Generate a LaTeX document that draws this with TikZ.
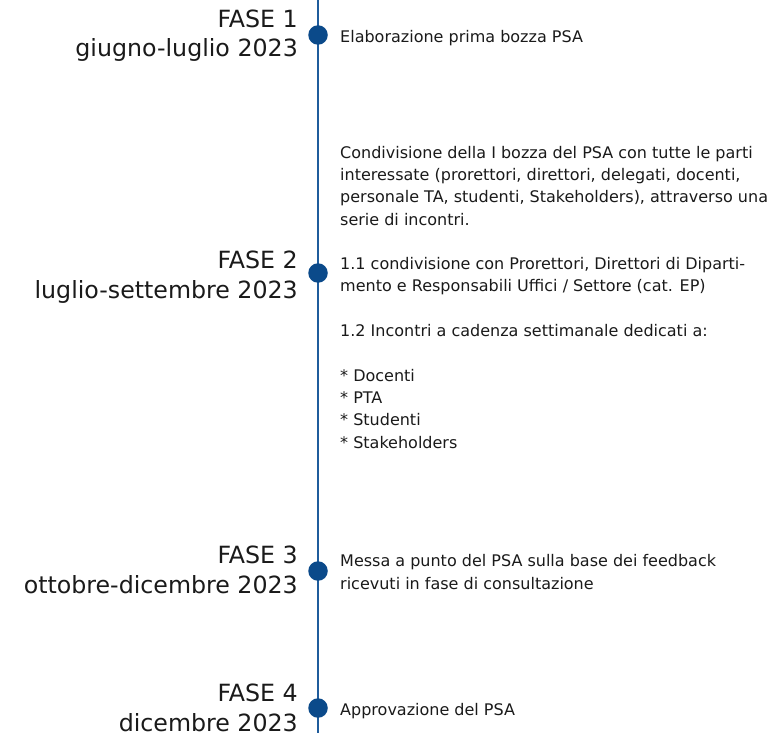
\documentclass[tikz,border=0pt]{standalone}
\usepackage{fontspec}
\setmainfont{DejaVu Sans}
\definecolor{lineblue}{HTML}{1F5C9C}
\definecolor{dotblue}{HTML}{0B4A8A}
\definecolor{txt}{HTML}{1A1A1A}
\begin{document}
\begin{tikzpicture}[x=1pt,y=-1pt,
  phase/.style={anchor=base east, align=right, font=\fontsize{23.7}{29.5}\selectfont, text=txt, inner sep=0pt},
  desc/.style={anchor=base west, align=left, font=\fontsize{16}{22.3}\selectfont, text=txt, inner sep=0pt},
  dot/.style={circle, fill=dotblue, minimum size=19.5pt, inner sep=0pt}]
\useasboundingbox (0,0) rectangle (773,733);
\coordinate (top) at (318,0);
\coordinate (bot) at (318,733);
\draw[lineblue, line width=2.7pt] (top) -- (bot);
\node[dot] (d1) at (318,35) {};
\node[dot] (d2) at (318,273) {};
\node[dot] (d3) at (318,571) {};
\node[dot] (d4) at (318,708) {};
\node[phase] (p1) at (298,57) {FASE 1\\giugno-luglio 2023};
\node[phase] (p2) at (298,298) {FASE 2\\luglio-settembre 2023};
\node[phase] (p3) at (298,593) {FASE 3\\ottobre-dicembre 2023};
\node[phase] (p4) at (298,731) {FASE 4\\dicembre 2023};
\node[desc] (t1) at (340,43) {Elaborazione prima bozza PSA};
\node[desc] (t2) at (340,448) {Condivisione della I bozza del PSA con tutte le parti\\interessate (prorettori, direttori, delegati, docenti,\\personale TA, studenti, Stakeholders), attraverso una\\serie di incontri.\\[22.3pt]1.1 condivisione con Prorettori, Direttori di Diparti-\\mento e Responsabili Uffici / Settore (cat. EP)\\[22.3pt]1.2 Incontri a cadenza settimanale dedicati a:\\[22.3pt]* Docenti\\* PTA\\* Studenti\\* Stakeholders};
\node[desc] (t3) at (340,589) {Messa a punto del PSA sulla base dei feedback\\ricevuti in fase di consultazione};
\node[desc] (t4) at (340,715) {Approvazione del PSA};
\end{tikzpicture}
\end{document}
